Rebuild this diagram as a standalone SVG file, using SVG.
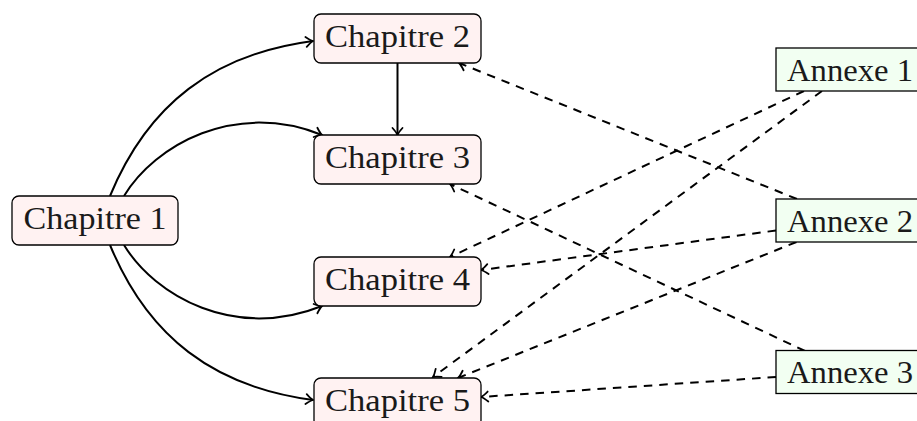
<svg xmlns="http://www.w3.org/2000/svg" width="917" height="421" viewBox="0 0 917 421">
<style>
.chap rect{fill:#fff2f2;stroke:#000;stroke-width:1.3}
.ann rect{fill:#f2fff2;stroke:#000;stroke-width:1.3}
text{font-family:"Liberation Serif","DejaVu Serif",serif;font-size:32px;fill:#1a1a1a;text-anchor:middle}
.edge{fill:none;stroke:#000;stroke-width:2}
.dash{stroke-dasharray:8.5 7}
</style>
<defs>
<marker id="arr" markerUnits="userSpaceOnUse" markerWidth="20" markerHeight="20" refX="0" refY="0" viewBox="-10 -10 20 20" orient="auto" overflow="visible">
<path d="M-7,-5 Q-2.5,-1 0,0 Q-2.5,1 -7,5" fill="none" stroke="#000" stroke-width="1.8" stroke-dasharray="none" stroke-linecap="round"/>
</marker>
</defs>
<rect width="917" height="421" fill="#fff"/>
<g id="connectors">
<path class="edge" marker-end="url(#arr)" d="M110,196 C148,104 214,54 313,41"/>
<path class="edge" marker-end="url(#arr)" d="M124,196 C155,145 235,100 322,135"/>
<path class="edge" marker-end="url(#arr)" d="M124,245 C155,296 235,341 322,306"/>
<path class="edge" marker-end="url(#arr)" d="M110,245 C148,337 214,387 313,400"/>
<path class="edge" marker-end="url(#arr)" d="M397.5,63 L397.5,135"/>
<path class="edge dash" marker-end="url(#arr)" d="M797,199 L459,63"/>
<path class="edge dash" marker-end="url(#arr)" d="M805,351 L450,184"/>
<path class="edge dash" marker-end="url(#arr)" d="M804,91 L450,257"/>
<path class="edge dash" marker-end="url(#arr)" d="M822,91 L433,377"/>
<path class="edge dash" marker-end="url(#arr)" d="M776,230.5 L481,270"/>
<path class="edge dash" marker-end="url(#arr)" d="M796.5,242 L458,378"/>
<path class="edge dash" marker-end="url(#arr)" d="M776,377 L481,397"/>
</g>
<g id="ch1" class="chap"><rect x="12" y="196" width="166" height="49" rx="7"/><text x="95" y="229" textLength="143" lengthAdjust="spacingAndGlyphs">Chapitre 1</text></g>
<g id="ch2" class="chap"><rect x="314" y="14" width="167" height="49" rx="7"/><text x="397.5" y="47" textLength="145" lengthAdjust="spacingAndGlyphs">Chapitre 2</text></g>
<g id="ch3" class="chap"><rect x="314" y="135" width="167" height="49" rx="7"/><text x="397.5" y="168" textLength="145" lengthAdjust="spacingAndGlyphs">Chapitre 3</text></g>
<g id="ch4" class="chap"><rect x="314" y="257" width="167" height="49" rx="7"/><text x="397.5" y="290" textLength="145" lengthAdjust="spacingAndGlyphs">Chapitre 4</text></g>
<g id="ch5" class="chap"><rect x="314" y="378" width="167" height="49" rx="7"/><text x="397.5" y="411" textLength="145" lengthAdjust="spacingAndGlyphs">Chapitre 5</text></g>
<g id="a1" class="ann"><rect x="776" y="48" width="148" height="43"/><text x="850" y="80.5" textLength="126" lengthAdjust="spacingAndGlyphs">Annexe 1</text></g>
<g id="a2" class="ann"><rect x="776" y="199" width="148" height="43"/><text x="850" y="231.5" textLength="126" lengthAdjust="spacingAndGlyphs">Annexe 2</text></g>
<g id="a3" class="ann"><rect x="776" y="350.5" width="148" height="43"/><text x="850" y="383" textLength="126" lengthAdjust="spacingAndGlyphs">Annexe 3</text></g>
</svg>
